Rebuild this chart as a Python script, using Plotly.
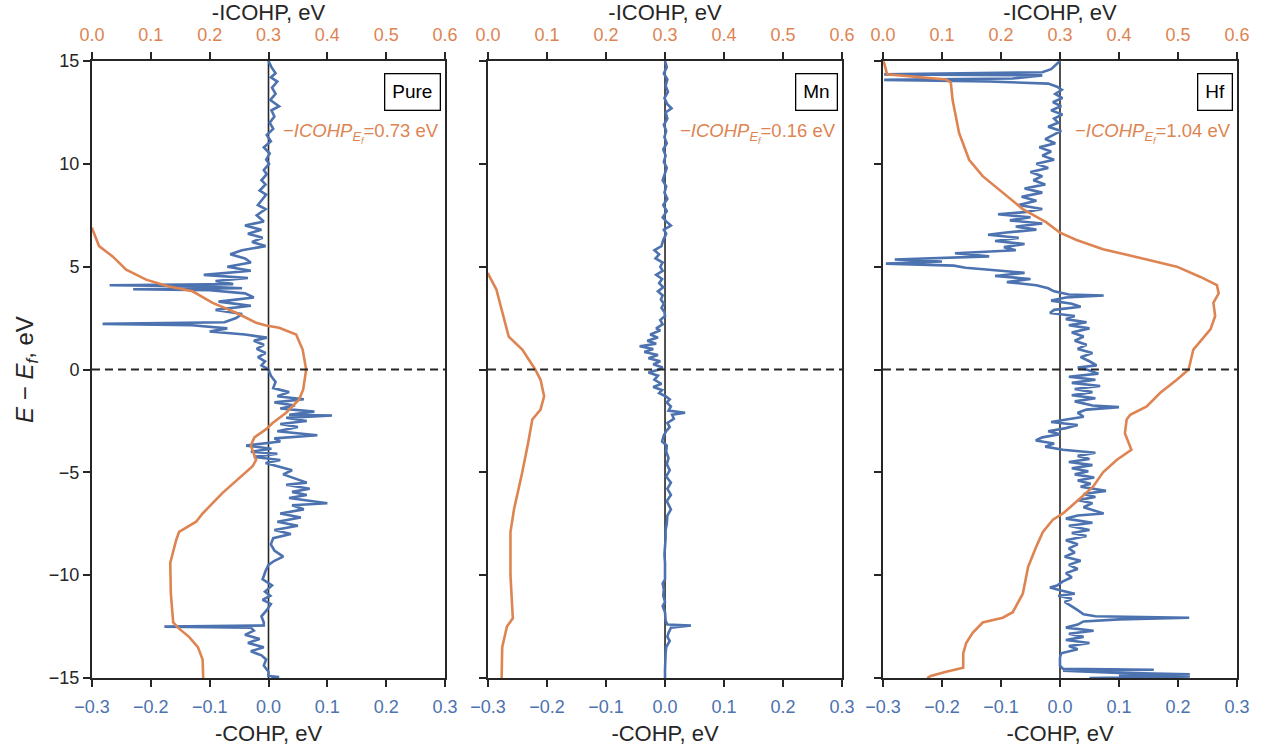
import plotly.graph_objects as go

BLUE = "#4C72B0"
ORANGE = "#DD8452"
DARK = "#262626"
FONT = "Liberation Sans, Arial, sans-serif"

panel_names = ["Pure", "Mn", "Hf"]
icohp_ef_labels = ["0.73", "0.16", "1.04"]

cohp_ticks = [-0.3, -0.2, -0.1, 0.0, 0.1, 0.2, 0.3]
icohp_ticks = [0.0, 0.1, 0.2, 0.3, 0.4, 0.5, 0.6]
energy_ticks = [-15, -10, -5, 0, 5, 10, 15]

# ---------------- Pure ----------------
pure_cohp_E = [15.0, 14.7, 14.4, 14.2, 14.0, 13.7, 13.4, 13.1, 12.8, 12.6, 12.3, 12.0, 11.7, 11.4, 11.1, 10.8,
               10.5, 10.2, 10.0, 9.7, 9.5, 9.2, 9.0, 8.7, 8.5, 8.3, 8.0, 7.8, 7.5, 7.2, 7.0, 6.8, 6.6, 6.4,
               6.2, 6.0, 5.8, 5.6, 5.4, 5.2, 5.0, 4.8, 4.6, 4.45, 4.3, 4.15, 4.1, 4.05, 3.95, 3.9, 3.85, 3.7,
               3.5, 3.3, 3.1, 2.9, 2.7, 2.5, 2.3, 2.22, 2.15, 2.0, 1.85, 1.7, 1.55, 1.4, 1.2, 1.0, 0.8, 0.6,
               0.4, 0.2, 0.0, -0.3, -0.6, -0.9, -1.1, -1.3, -1.45, -1.6, -1.75, -1.9, -2.05, -2.2, -2.24,
               -2.35, -2.5, -2.65, -2.8, -3.0, -3.2, -3.35, -3.5, -3.7, -3.85, -4.0, -4.1, -4.25, -4.4,
               -4.55, -4.7, -4.9, -5.1, -5.3, -5.5, -5.6, -5.8, -5.95, -6.1, -6.25, -6.5, -6.6, -6.8, -7.0,
               -7.2, -7.4, -7.6, -7.8, -8.0, -8.2, -8.5, -8.8, -9.1, -9.3, -9.5, -9.8, -10.2, -10.5, -10.8,
               -11.0, -11.2, -11.4, -11.7, -12.0, -12.3, -12.45, -12.5, -12.55, -12.7, -12.9, -13.1, -13.3,
               -13.5, -13.7, -13.9, -14.1, -14.4, -14.7, -14.9, -14.95, -15.0]
pure_cohp = [0.0, 0.005, 0.012, 0.004, 0.015, 0.006, 0.012, 0.003, 0.018, 0.005, 0.010, 0.002, 0.008, -0.003,
             0.004, -0.008, 0.002, -0.004, 0.001, -0.008, -0.003, -0.012, -0.005, -0.015, -0.004, -0.010,
             -0.018, -0.005, -0.020, -0.008, -0.040, -0.012, -0.035, -0.010, -0.028, -0.005, -0.045, -0.065,
             -0.040, -0.030, -0.070, -0.030, -0.110, -0.035, -0.090, -0.060, -0.270, -0.120, -0.045, -0.230,
             -0.100, -0.040, -0.025, -0.085, -0.030, -0.090, -0.045, -0.055, -0.075, -0.282, -0.130, -0.070,
             -0.100, -0.040, -0.003, -0.025, -0.008, -0.020, -0.005, -0.018, -0.006, -0.012, 0.0, 0.004,
             0.012, 0.008, 0.035, 0.015, 0.060, 0.010, 0.045, 0.020, 0.078, 0.035, 0.108, 0.030, 0.065,
             0.020, 0.050, 0.015, 0.083, 0.010, 0.020, -0.038, 0.005, -0.030, 0.015, -0.025, 0.020, -0.005,
             0.015, 0.040, 0.025, 0.045, 0.065, 0.030, 0.070, 0.040, 0.065, 0.035, 0.100, 0.040, 0.060,
             0.020, 0.055, 0.015, 0.050, 0.010, 0.038, 0.008, 0.004, 0.010, 0.025, 0.010, 0.000, -0.005,
             -0.010, 0.006, -0.006, 0.003, -0.010, 0.004, -0.003, -0.012, -0.008, -0.008, -0.177, -0.030,
             -0.025, -0.040, -0.015, -0.035, -0.008, -0.030, -0.012, -0.004, -0.008, 0.0, 0.0, 0.018, 0.005]

pure_icohp_E = [6.9, 6.8, 6.0, 5.5, 4.85, 4.37, 4.05, 3.8, 3.24, 2.76, 2.27, 2.14, 2.03, 1.7, 0.97, 0.0,
                -0.97, -1.46, -2.1, -2.6, -2.9, -3.3, -3.7, -4.4, -4.7, -5.3, -6.0, -6.5, -7.0, -7.4, -7.9,
                -8.3, -9.4, -10.9, -12.3, -12.6, -13.0, -13.5, -14.1, -15.0]
pure_icohp = [0.0, 0.001, 0.012, 0.035, 0.058, 0.092, 0.129, 0.171, 0.205, 0.245, 0.279, 0.296, 0.318, 0.347,
              0.358, 0.364, 0.359, 0.352, 0.330, 0.307, 0.296, 0.276, 0.270, 0.279, 0.273, 0.250, 0.222, 0.205,
              0.188, 0.177, 0.148, 0.143, 0.133, 0.134, 0.138, 0.148, 0.165, 0.180, 0.188, 0.189]

# ---------------- Mn ----------------
mn_cohp_E = [15.0, 14.7, 14.4, 14.1, 13.8, 13.5, 13.2, 12.9, 12.7, 12.5, 12.2, 11.9, 11.6, 11.3, 11.0, 10.7,
             10.4, 10.1, 9.8, 9.5, 9.2, 8.9, 8.6, 8.3, 8.0, 7.7, 7.4, 7.2, 7.0, 6.8, 6.6, 6.3, 6.0, 5.8, 5.6,
             5.4, 5.2, 5.0, 4.8, 4.6, 4.4, 4.2, 4.0, 3.8, 3.6, 3.4, 3.2, 3.0, 2.8, 2.6, 2.4, 2.2, 2.0, 1.9,
             1.7, 1.55, 1.4, 1.25, 1.13, 1.0, 0.85, 0.7, 0.55, 0.4, 0.25, 0.1, 0.0, -0.15, -0.3, -0.5, -0.7,
             -0.85, -1.0, -1.15, -1.3, -1.45, -1.6, -1.8, -2.0, -2.1, -2.2, -2.4, -2.6, -2.8, -3.0, -3.2,
             -3.5, -3.7, -4.0, -4.3, -4.6, -4.9, -5.2, -5.5, -5.8, -6.1, -6.4, -6.8, -7.1, -7.5, -7.8, -8.2,
             -8.6, -9.0, -9.4, -9.8, -10.2, -10.4, -10.7, -11.0, -11.3, -11.5, -11.8, -12.2, -12.4, -12.45,
             -12.55, -12.8, -13.0, -13.2, -13.5, -13.8, -14.2, -14.6, -15.0]
mn_cohp = [0.0, 0.003, -0.002, 0.004, 0.001, 0.005, -0.001, 0.004, 0.011, 0.001, 0.004, -0.002, 0.002, -0.001,
           0.003, -0.003, 0.001, -0.002, 0.003, 0.000, -0.004, 0.002, -0.001, 0.004, -0.003, 0.003, -0.004,
           0.002, 0.010, -0.002, 0.002, -0.003, -0.006, -0.018, -0.010, -0.016, -0.004, -0.008, -0.004, -0.015,
           -0.005, -0.010, -0.003, -0.012, -0.004, -0.007, -0.002, -0.006, -0.001, 0.000, -0.008, -0.004,
           -0.015, -0.008, -0.025, -0.012, -0.030, -0.015, -0.043, -0.020, -0.035, -0.012, -0.028, -0.008,
           -0.020, -0.004, -0.010, -0.028, -0.012, -0.018, -0.006, -0.020, -0.005, -0.010, 0.001, 0.008, 0.003,
           0.010, 0.006, 0.034, 0.012, 0.015, 0.004, 0.008, 0.002, -0.002, -0.005, 0.003, 0.002, 0.006, 0.003,
           0.008, 0.002, 0.010, 0.004, 0.010, 0.003, 0.010, 0.004, 0.003, 0.001, 0.001, 0.0, -0.001, 0.0, 0.0,
           0.0, -0.004, -0.002, -0.003, 0.0, -0.004, 0.0, 0.001, 0.004, 0.044, 0.010, 0.006, 0.004, 0.008,
           0.002, 0.001, 0.0, 0.0, 0.0]

mn_icohp_E = [4.7, 4.6, 3.9, 2.6, 1.6, 0.97, 0.0, -0.5, -1.3, -1.95, -2.43, -3.56, -5.0, -6.8, -7.9, -10.0,
              -12.1, -12.5, -13.5, -15.0]
mn_icohp = [0.0, 0.001, 0.014, 0.026, 0.035, 0.058, 0.080, 0.089, 0.095, 0.089, 0.075, 0.068, 0.058, 0.044,
            0.038, 0.038, 0.042, 0.032, 0.024, 0.023]

# ---------------- Hf ----------------
hf_cohp_E = [15.0, 14.8, 14.6, 14.45, 14.35, 14.3, 14.15, 14.08, 14.0, 13.9, 13.75, 13.6, 13.4, 13.2, 13.0,
             12.8, 12.6, 12.4, 12.2, 12.0, 11.8, 11.6, 11.4, 11.2, 11.0, 10.8, 10.6, 10.4, 10.2, 10.0, 9.8,
             9.6, 9.4, 9.2, 9.0, 8.8, 8.6, 8.4, 8.2, 8.0, 7.8, 7.65, 7.55, 7.4, 7.25, 7.1, 6.95, 6.8, 6.65,
             6.55, 6.4, 6.25, 6.1, 5.95, 5.8, 5.65, 5.5, 5.35, 5.25, 5.15, 5.05, 4.95, 4.85, 4.7, 4.55, 4.4,
             4.25, 4.1, 3.95, 3.8, 3.65, 3.6, 3.5, 3.35, 3.2, 3.05, 2.9, 2.75, 2.6, 2.45, 2.3, 2.15, 2.0, 1.8,
             1.6, 1.4, 1.2, 1.0, 0.8, 0.6, 0.4, 0.2, 0.1, 0.0, -0.2, -0.35, -0.5, -0.65, -0.8, -0.95, -1.1,
             -1.25, -1.4, -1.55, -1.75, -1.83, -1.95, -2.1, -2.3, -2.45, -2.55, -2.7, -2.85, -3.0, -3.15,
             -3.3, -3.45, -3.6, -3.75, -3.9, -4.05, -4.2, -4.35, -4.5, -4.65, -4.8, -4.95, -5.1, -5.25, -5.4,
             -5.55, -5.7, -5.85, -5.9, -6.05, -6.2, -6.35, -6.5, -6.7, -6.85, -7.0, -7.1, -7.25, -7.45, -7.6,
             -7.8, -7.95, -8.1, -8.3, -8.5, -8.7, -8.9, -9.1, -9.3, -9.5, -9.7, -9.9, -10.1, -10.3, -10.5,
             -10.6, -10.75, -10.9, -11.0, -11.15, -11.3, -11.5, -11.7, -11.9, -12.0, -12.07, -12.15, -12.25,
             -12.4, -12.55, -12.7, -12.85, -13.0, -13.15, -13.3, -13.45, -13.6, -13.8, -14.0, -14.2, -14.4,
             -14.55, -14.6, -14.65, -14.75, -14.82, -14.88, -14.93, -15.0]
hf_cohp = [0.0, -0.008, -0.015, -0.030, -0.298, -0.030, -0.080, -0.298, -0.120, -0.020, -0.005, 0.003, -0.008,
           0.004, -0.012, 0.002, -0.015, 0.004, -0.010, -0.003, -0.020, 0.002, -0.012, -0.025, -0.008, -0.035,
           -0.015, -0.030, -0.010, -0.040, -0.020, -0.050, -0.030, -0.045, -0.025, -0.060, -0.030, -0.065,
           -0.040, -0.070, -0.030, -0.060, -0.105, -0.050, -0.085, -0.030, -0.075, -0.040, -0.095, -0.122,
           -0.070, -0.110, -0.060, -0.095, -0.075, -0.178, -0.120, -0.280, -0.200, -0.295, -0.180, -0.160,
           -0.120, -0.060, -0.110, -0.050, -0.090, -0.040, -0.020, -0.010, 0.015, 0.074, 0.010, -0.015, 0.020,
           0.035, -0.010, -0.017, 0.025, 0.010, 0.045, 0.015, 0.050, 0.020, 0.040, 0.025, 0.045, 0.030, 0.055,
           0.035, 0.050, 0.062, 0.030, 0.045, 0.065, 0.015, 0.060, 0.020, 0.068, 0.025, 0.055, 0.020, 0.060,
           0.025, 0.055, 0.100, 0.045, 0.030, 0.040, 0.002, -0.015, 0.030, 0.010, -0.020, 0.000, -0.030,
           -0.041, -0.010, -0.025, 0.005, 0.060, 0.030, 0.050, 0.015, 0.055, 0.020, 0.048, 0.025, 0.058, 0.030,
           0.052, 0.035, 0.065, 0.078, 0.040, 0.060, 0.030, 0.055, 0.040, 0.058, 0.074, 0.030, 0.010, 0.055,
           0.015, 0.050, 0.020, 0.045, 0.010, 0.030, 0.015, 0.025, 0.008, 0.035, 0.015, 0.030, 0.010, 0.020,
           0.005, -0.005, -0.017, 0.002, 0.025, -0.003, 0.020, 0.008, 0.020, 0.030, 0.040, 0.060, 0.219, 0.100,
           0.040, 0.030, 0.010, 0.057, 0.015, 0.040, 0.010, 0.050, 0.015, 0.030, 0.002, 0.000, 0.000, 0.000,
           0.005, 0.159, 0.005, 0.100, 0.220, 0.100, 0.220, 0.050]

hf_icohp_E = [15.0, 14.9, 14.35, 14.2, 14.1, 13.95, 13.1, 11.5, 10.2, 9.4, 8.6, 7.8, 7.15, 6.65, 6.3, 5.85,
              5.35, 5.0, 4.5, 4.1, 3.7, 3.24, 2.6, 1.95, 0.97, 0.0, -0.5, -1.13, -1.8, -2.2, -2.43, -3.1,
              -3.9, -4.4, -5.0, -5.7, -6.3, -7.0, -7.3, -7.9, -8.6, -9.6, -10.9, -11.8, -12.07, -12.3, -12.8,
              -13.3, -13.8, -14.5, -14.7, -14.9, -15.0]
hf_icohp = [0.0, 0.002, 0.007, 0.061, 0.107, 0.115, 0.118, 0.129, 0.146, 0.169, 0.203, 0.237, 0.277, 0.300,
            0.328, 0.373, 0.447, 0.498, 0.538, 0.566, 0.569, 0.560, 0.563, 0.555, 0.526, 0.518, 0.498, 0.470,
            0.447, 0.419, 0.413, 0.410, 0.421, 0.396, 0.373, 0.356, 0.333, 0.305, 0.288, 0.271, 0.260, 0.246,
            0.237, 0.220, 0.203, 0.169, 0.152, 0.141, 0.136, 0.136, 0.107, 0.081, 0.075]

cohp_E = [pure_cohp_E, mn_cohp_E, hf_cohp_E]
cohp_vals = [pure_cohp, mn_cohp, hf_cohp]
icohp_E = [pure_icohp_E, mn_icohp_E, hf_icohp_E]
icohp_vals = [pure_icohp, mn_icohp, hf_icohp]

# layout geometry (fractions of plot area)
domains = [[0.0, 0.3083], [0.3459, 0.6550], [0.6908, 1.0]]

fig = go.Figure()
layout = dict(
    width=1269, height=747,
    margin=dict(l=92, r=32, t=61, b=69, autoexpand=False),
    paper_bgcolor="white", plot_bgcolor="white",
    showlegend=False,
    font=dict(family=FONT, color=DARK, size=18),
)

shapes = []
annotations = []
for i in range(3):
    n = i + 1
    xb = "x" if n == 1 else f"x{n}"
    yb = "y" if n == 1 else f"y{n}"
    xt = f"x{n + 3}"
    fig.add_trace(go.Scatter(x=cohp_vals[i], y=cohp_E[i], mode="lines",
                             line=dict(color=BLUE, width=2.6), xaxis=xb, yaxis=yb, hoverinfo="skip"))
    fig.add_trace(go.Scatter(x=icohp_vals[i], y=icohp_E[i], mode="lines",
                             line=dict(color=ORANGE, width=2.6), xaxis=xt, yaxis=yb, hoverinfo="skip"))
    ax_common = dict(showline=True, linecolor=DARK, linewidth=2, ticks="outside", ticklen=7,
                     tickwidth=1.6, tickcolor=DARK, showgrid=False, zeroline=False, automargin=False)
    layout["xaxis" if n == 1 else f"xaxis{n}"] = dict(
        **ax_common, domain=domains[i], anchor=yb, range=[-0.3, 0.3], tickvals=cohp_ticks,
        tickformat=".1f", tickfont=dict(color=BLUE, size=18, family=FONT), ticklabelstandoff=4,
        title=dict(text="-COHP, eV", font=dict(size=22, color=DARK, family=FONT), standoff=10),
    )
    layout[f"xaxis{n + 3}"] = dict(
        **ax_common, overlaying=xb, side="top", anchor=yb, range=[0.0, 0.6], tickvals=icohp_ticks,
        tickformat=".1f", tickfont=dict(color=ORANGE, size=18, family=FONT), ticklabelstandoff=4,
        title=dict(text="-ICOHP, eV", font=dict(size=22, color=DARK, family=FONT), standoff=11),
    )
    ycfg = dict(**ax_common, mirror=True, range=[-15, 15], tickvals=energy_ticks, anchor=xb,
                showticklabels=(n == 1), tickfont=dict(color=DARK, size=18, family=FONT))
    if n == 1:
        ycfg["title"] = dict(text="<i>E</i> − <i>E<sub>f</sub></i>, eV",
                             font=dict(size=24, color=DARK, family=FONT), standoff=8)
    layout["yaxis" if n == 1 else f"yaxis{n}"] = ycfg
    # zero COHP vertical line
    shapes.append(dict(type="line", xref=xb, yref=f"{yb} domain", x0=0, x1=0, y0=0, y1=1,
                       line=dict(color=DARK, width=1.6), layer="below"))
    # Fermi level dashed line
    shapes.append(dict(type="line", xref=f"{xb} domain", yref=yb, x0=0, x1=1, y0=0, y1=0,
                       line=dict(color=DARK, width=2, dash="8px,5px"), layer="above"))
    annotations.append(dict(xref=f"{xb} domain", yref=f"{yb} domain", x=0.988, y=0.98,
                            xanchor="right", yanchor="top", text=panel_names[i], showarrow=False,
                            font=dict(size=19, color="black", family=FONT), bordercolor="black",
                            borderwidth=1.3, borderpad=7, bgcolor="white"))
    annotations.append(dict(xref=f"{xb} domain", yref=f"{yb} domain", x=0.99, y=0.884,
                            xanchor="right", yanchor="middle",
                            text="−<i>ICOHP<sub>E<sub>f</sub></sub></i>=" + icohp_ef_labels[i] + " eV",
                            showarrow=False, font=dict(size=18.5, color=ORANGE, family=FONT)))

layout["shapes"] = shapes
layout["annotations"] = annotations
fig.update_layout(**layout)
# remove the default page margin so the figure sits at the window's top-left corner
fig.write_html("out.html", config={"displayModeBar": False},
               post_script="document.body.style.margin='0';")
